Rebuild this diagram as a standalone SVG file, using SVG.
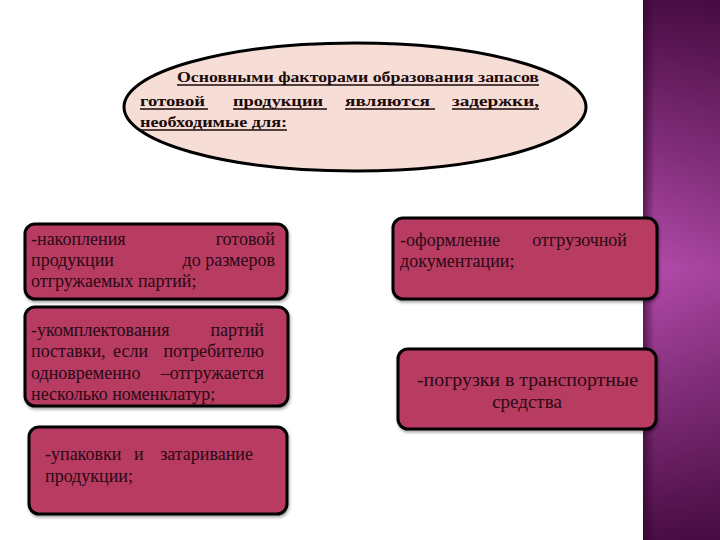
<svg xmlns="http://www.w3.org/2000/svg" width="720" height="540" viewBox="0 0 720 540">
<defs>
<linearGradient id="strip" x1="0" y1="0" x2="0" y2="1">
<stop offset="0" stop-color="#4a0c44"/>
<stop offset="0.5" stop-color="#b24aa9"/>
<stop offset="1" stop-color="#4a0c44"/>
</linearGradient>
<linearGradient id="stripH" x1="0" y1="0" x2="1" y2="0">
<stop offset="0" stop-color="#2a0528" stop-opacity="0.6"/>
<stop offset="0.15" stop-color="#2a0528" stop-opacity="0"/>
<stop offset="1" stop-color="#2a0528" stop-opacity="0.1"/>
</linearGradient>
<filter id="sh" x="-5%" y="-5%" width="110%" height="115%">
<feDropShadow dx="1" dy="2" stdDeviation="1.5" flood-color="#000" flood-opacity="0.35"/>
</filter>
</defs>
<style>
.box{fill:#b83b62;stroke:#000;stroke-width:3;}
.t{font-family:Liberation Serif, serif;font-size:18px;fill:#2a0a14;}
.h{font-family:Liberation Serif, serif;font-size:15.5px;font-weight:bold;fill:#1a0a0a;}
.ul{stroke:#1a0a0a;stroke-width:1.3;}
.big{font-size:19px;}
</style>
<rect x="0" y="0" width="720" height="540" fill="#ffffff"/>
<rect x="643" y="0" width="77" height="540" fill="url(#strip)"/>
<rect x="643" y="0" width="77" height="540" fill="url(#stripH)"/>

<g id="title">
<ellipse cx="355" cy="107" rx="231" ry="64" fill="#f6ddd6" stroke="#000" stroke-width="3"/>
<text class="h" x="177" y="82" textLength="362" lengthAdjust="spacingAndGlyphs">Основными факторами образования запасов</text>
<text class="h" x="140" y="106" textLength="65" lengthAdjust="spacingAndGlyphs">готовой</text>
<text class="h" x="233" y="106" textLength="90" lengthAdjust="spacingAndGlyphs">продукции</text>
<text class="h" x="345" y="106" textLength="85" lengthAdjust="spacingAndGlyphs">являются</text>
<text class="h" x="452" y="106" textLength="87" lengthAdjust="spacingAndGlyphs">задержки,</text>
<text class="h" x="140" y="127" textLength="147" lengthAdjust="spacingAndGlyphs">необходимые для:</text>
<line class="ul" x1="177" y1="85" x2="539" y2="85"/>
<line class="ul" x1="140" y1="109" x2="208" y2="109"/>
<line class="ul" x1="233" y1="109" x2="327" y2="109"/>
<line class="ul" x1="345" y1="109" x2="435" y2="109"/>
<line class="ul" x1="452" y1="109" x2="539" y2="109"/>
<line class="ul" x1="140" y1="130" x2="287" y2="130"/>
</g>

<g id="box1">
<rect class="box" x="25" y="224" width="262" height="75" rx="10" filter="url(#sh)"/>
<text class="t" x="31" y="245">-накопления</text>
<text class="t" x="275" y="245" text-anchor="end">готовой</text>
<text class="t" x="31" y="266">продукции</text>
<text class="t" x="275" y="266" text-anchor="end">до размеров</text>
<text class="t" x="31" y="287">отгружаемых партий;</text>
</g>

<g id="box2">
<rect class="box" x="25" y="307" width="263" height="99" rx="10" filter="url(#sh)"/>
<text class="t" x="31" y="336">-укомплектования</text>
<text class="t" x="264" y="336" text-anchor="end">партий</text>
<text class="t" x="31" y="357">поставки,</text>
<text class="t" x="113" y="357">если</text>
<text class="t" x="264" y="357" text-anchor="end">потребителю</text>
<text class="t" x="31" y="379">одновременно</text>
<text class="t" x="264" y="379" text-anchor="end">–отгружается</text>
<text class="t" x="31" y="400">несколько номенклатур;</text>
</g>

<g id="box3">
<rect class="box" x="29" y="427" width="258" height="87" rx="10" filter="url(#sh)"/>
<text class="t" x="45" y="460">-упаковки</text>
<text class="t" x="134" y="460">и</text>
<text class="t" x="253" y="460" text-anchor="end">затаривание</text>
<text class="t" x="45" y="482">продукции;</text>
</g>

<g id="box4">
<rect class="box" x="393" y="218" width="264" height="81" rx="10" filter="url(#sh)"/>
<text class="t" x="400" y="246">-оформление</text>
<text class="t" x="627" y="246" text-anchor="end">отгрузочной</text>
<text class="t" x="400" y="267">документации;</text>
</g>

<g id="box5">
<rect class="box" x="398" y="349" width="258" height="80" rx="10" filter="url(#sh)"/>
<text class="t big" x="417" y="386" textLength="221" lengthAdjust="spacingAndGlyphs">-погрузки в транспортные</text>
<text class="t big" x="527" y="408" text-anchor="middle">средства</text>
</g>

<g id="connectors"></g>
</svg>
